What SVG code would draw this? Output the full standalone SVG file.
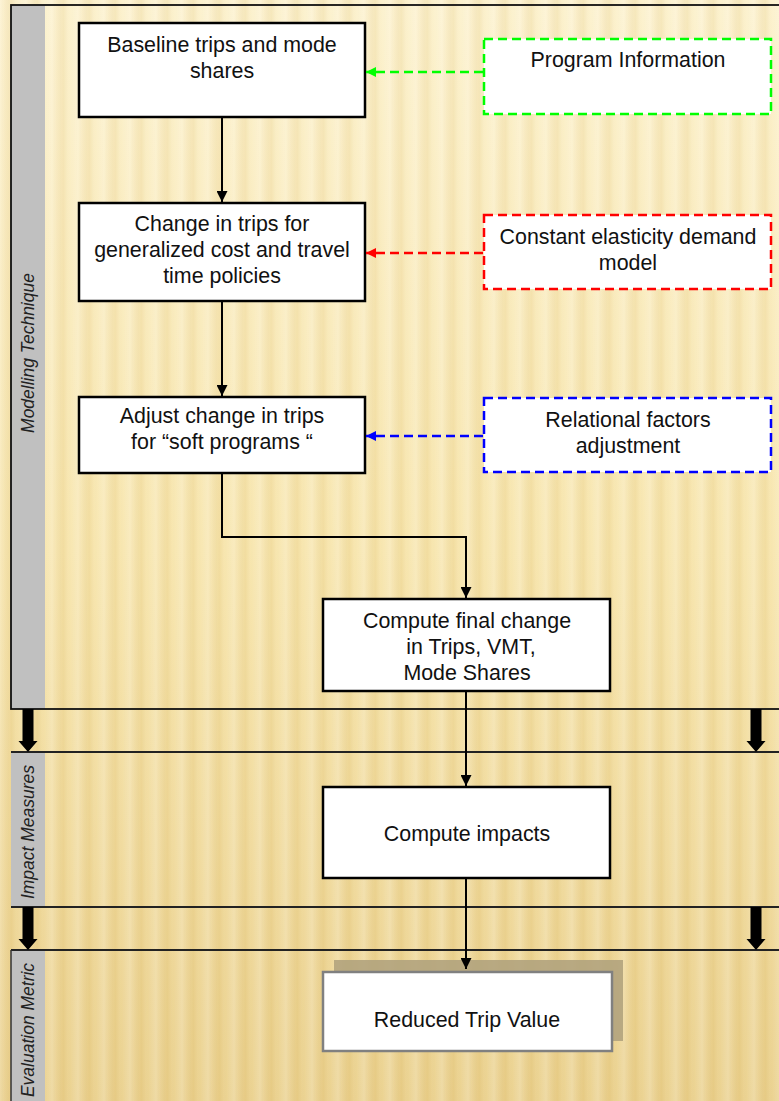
<svg xmlns="http://www.w3.org/2000/svg" width="779" height="1101" viewBox="0 0 779 1101">
<defs>
<linearGradient id="bg" x1="0" y1="0" x2="0" y2="1">
<stop offset="0" stop-color="#FCF1CC"/>
<stop offset="0.5" stop-color="#F7E5AC"/>
<stop offset="1" stop-color="#EAD08C"/>
</linearGradient>
<linearGradient id="sg" x1="0" y1="0" x2="1" y2="0">
<stop offset="0" stop-color="#FFFFFF" stop-opacity="0.22"/>
<stop offset="0.45" stop-color="#C9A24A" stop-opacity="0.12"/>
<stop offset="0.7" stop-color="#FFFFFF" stop-opacity="0.05"/>
<stop offset="1" stop-color="#FFFFFF" stop-opacity="0.22"/>
</linearGradient>
<pattern id="stripes" width="26" height="1101" patternUnits="userSpaceOnUse">
<rect width="26" height="1101" fill="url(#sg)"/>
</pattern>
<marker id="ak" viewBox="0 0 10 10" refX="10" refY="5" markerWidth="11" markerHeight="11" markerUnits="userSpaceOnUse" orient="auto">
<path d="M0,0 L10,5 L0,10 z" fill="#000"/>
</marker>
<marker id="ag" viewBox="0 0 10 10" refX="10" refY="5" markerWidth="10" markerHeight="10" markerUnits="userSpaceOnUse" orient="auto">
<path d="M0,0 L10,5 L0,10 z" fill="#00FF00"/>
</marker>
<marker id="ar" viewBox="0 0 10 10" refX="10" refY="5" markerWidth="10" markerHeight="10" markerUnits="userSpaceOnUse" orient="auto">
<path d="M0,0 L10,5 L0,10 z" fill="#FF0000"/>
</marker>
<marker id="ab" viewBox="0 0 10 10" refX="10" refY="5" markerWidth="10" markerHeight="10" markerUnits="userSpaceOnUse" orient="auto">
<path d="M0,0 L10,5 L0,10 z" fill="#0000FF"/>
</marker>
</defs>
<style>
.box{fill:#FFFFFF;stroke:#000;stroke-width:2.5}
.dash{fill:#FFFFFF;stroke-width:2.5;stroke-dasharray:9 5}
.t{font-family:"Liberation Sans",Arial,sans-serif;font-size:21.4px;fill:#111;text-anchor:middle}
.side{font-family:"Liberation Sans",Arial,sans-serif;font-size:17.5px;font-style:italic;fill:#222;text-anchor:middle}
.strip{fill:#C0C0C0}
.band{stroke:#222;stroke-width:2;fill:none}
.conn{stroke:#000;stroke-width:2;fill:none}
.big{fill:#000}
</style>
<g id="background">
<rect width="779" height="1101" fill="url(#bg)"/>
<rect width="779" height="1101" fill="url(#stripes)"/>
</g>
<g id="bands">
<rect class="strip" x="11" y="5" width="34" height="704"/>
<rect x="11" y="5" width="800" height="704" fill="none" stroke="#111" stroke-width="1.8"/>
<rect class="strip" x="11" y="752" width="34" height="155"/>
<line class="band" x1="11" y1="752" x2="779" y2="752"/>
<line class="band" x1="11" y1="907" x2="779" y2="907"/>
<rect class="strip" x="11" y="950" width="34" height="151"/>
<line class="band" x1="11" y1="950" x2="779" y2="950"/>
<line x1="11" y1="950" x2="11" y2="1101" stroke="#333" stroke-width="1.5"/>
<text class="side" transform="translate(33.5,353) rotate(-90)">Modelling Technique</text>
<text class="side" transform="translate(33.5,832) rotate(-90)">Impact Measures</text>
<text class="side" transform="translate(33.5,1030) rotate(-90)">Evaluation Metric</text>
<path class="big" d="M22.5,709 h11 v32 h4 l-9.5,11 l-9.5,-11 h4 z"/>
<path class="big" d="M750.5,709 h11 v32 h4 l-9.5,11 l-9.5,-11 h4 z"/>
<path class="big" d="M22.5,907 h11 v32 h4 l-9.5,11 l-9.5,-11 h4 z"/>
<path class="big" d="M750.5,907 h11 v32 h4 l-9.5,11 l-9.5,-11 h4 z"/>
</g>
<g id="node-baseline">
<rect class="box" x="79" y="23" width="286" height="94"/>
<text class="t" x="222" y="52">Baseline trips and mode</text>
<text class="t" x="222" y="78">shares</text>
</g>
<g id="node-change">
<rect class="box" x="79" y="203" width="286" height="98"/>
<text class="t" x="222" y="231">Change in trips for</text>
<text class="t" x="222" y="257">generalized cost and travel</text>
<text class="t" x="222" y="283">time policies</text>
</g>
<g id="node-adjust">
<rect class="box" x="79" y="397" width="286" height="76"/>
<text class="t" x="222" y="423">Adjust change in trips</text>
<text class="t" x="222" y="449">for “soft programs “</text>
</g>
<g id="node-final">
<rect class="box" x="323" y="599" width="287" height="92"/>
<text class="t" x="467" y="628">Compute final change</text>
<text class="t" x="471" y="654">in Trips, VMT,</text>
<text class="t" x="467" y="680">Mode Shares</text>
</g>
<g id="node-impacts">
<rect class="box" x="323" y="787" width="287" height="91"/>
<text class="t" x="467" y="841">Compute impacts</text>
</g>
<g id="node-reduced">
<rect x="334" y="960" width="289" height="81" fill="#B1A37D" opacity="0.9"/>
<rect x="323" y="972" width="289" height="79" fill="#FFFFFF" stroke="#808080" stroke-width="2.5"/>
<text class="t" x="467" y="1027">Reduced Trip Value</text>
</g>
<g id="node-program">
<rect class="dash" x="484" y="39" width="287" height="75" stroke="#00FF00"/>
<text class="t" x="628" y="67">Program Information</text>
</g>
<g id="node-elasticity">
<rect class="dash" x="484" y="215" width="287" height="74" stroke="#FF0000"/>
<text class="t" x="628" y="244">Constant elasticity demand</text>
<text class="t" x="628" y="270">model</text>
</g>
<g id="node-relational">
<rect class="dash" x="484" y="398" width="287" height="74" stroke="#0000FF"/>
<text class="t" x="628" y="427">Relational factors</text>
<text class="t" x="628" y="453">adjustment</text>
</g>
<g id="connectors">
<line class="conn" x1="222" y1="118" x2="222" y2="202" marker-end="url(#ak)"/>
<line class="conn" x1="222" y1="302" x2="222" y2="396" marker-end="url(#ak)"/>
<polyline class="conn" points="222,474 222,537 466,537 466,598" marker-end="url(#ak)"/>
<line class="conn" x1="466" y1="692" x2="466" y2="786" marker-end="url(#ak)"/>
<line class="conn" x1="466" y1="879" x2="466" y2="969" marker-end="url(#ak)"/>
<line x1="483" y1="72" x2="366" y2="72" stroke="#00FF00" stroke-width="2.5" stroke-dasharray="9 5" marker-end="url(#ag)"/>
<line x1="483" y1="253" x2="366" y2="253" stroke="#FF0000" stroke-width="2.5" stroke-dasharray="9 5" marker-end="url(#ar)"/>
<line x1="483" y1="436" x2="366" y2="436" stroke="#0000FF" stroke-width="2.5" stroke-dasharray="9 5" marker-end="url(#ab)"/>
</g>
</svg>
